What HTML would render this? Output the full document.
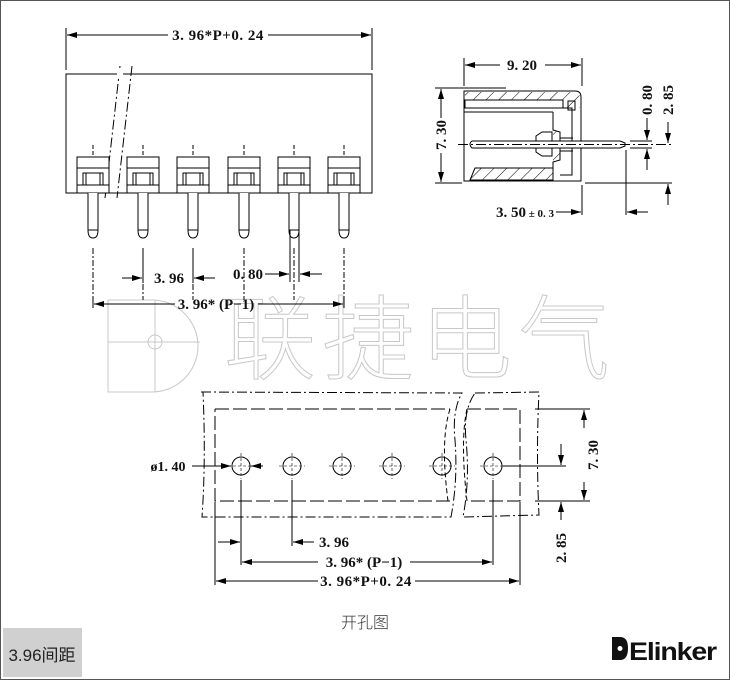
<!DOCTYPE html>
<html><head><meta charset="utf-8"><style>
html,body{margin:0;padding:0;background:#fff;}
svg{display:block;}
.t{font-family:"Liberation Serif","Noto Serif CJK SC",serif;font-weight:bold;font-size:15px;fill:#111;}
</style></head><body>
<svg width="730" height="680" viewBox="0 0 730 680" xmlns="http://www.w3.org/2000/svg">
<defs>
<marker id="a" viewBox="0 0 10 6" refX="10" refY="3" markerWidth="10" markerHeight="6" orient="auto-start-reverse" markerUnits="userSpaceOnUse"><path d="M0,0L10,3L0,6z" fill="#000"/></marker>
<pattern id="h" width="9" height="9" patternUnits="userSpaceOnUse" patternTransform="rotate(45)"><line x1="0" y1="0" x2="0" y2="9" stroke="#000" stroke-width="1"/></pattern>
</defs>
<rect x="0.5" y="0.5" width="729" height="679" fill="#fff" stroke="#555"/>
<rect x="3" y="628" width="79" height="49" fill="#d0d0d0"/>
<text x="42" y="661" text-anchor="middle" style="font-family:'Liberation Sans','Noto Sans CJK SC',sans-serif;font-size:17px;fill:#222">3.96间距</text>

<g fill="none" stroke="#c8c8c8" stroke-width="1">
<path d="M108,300 L108,392 L152,392 A46,46 0 0 0 152,300 Z"/>
<line x1="155" y1="300" x2="155" y2="392"/><line x1="108" y1="342" x2="200" y2="342"/>
<circle cx="155" cy="342" r="7"/>
</g>
<text x="420" y="372" text-anchor="middle" style="font-family:'Noto Sans CJK SC',sans-serif;font-size:92px;font-weight:300;fill:#fff;stroke:#c8c8c8;stroke-width:1;letter-spacing:6px">联捷电气</text>

<g stroke="#000" stroke-width="1" fill="none">
<rect x="66" y="74" width="306" height="119" fill="#fff"/>
<line x1="66" y1="28" x2="66" y2="70"/><line x1="372" y1="28" x2="372" y2="70"/>
<line x1="67" y1="35" x2="168" y2="35" marker-start="url(#a)"/><line x1="268" y1="35" x2="371" y2="35" marker-end="url(#a)"/>
<g stroke-dasharray="10,3,2,3">
<line x1="120" y1="66" x2="105" y2="198"/><line x1="132" y1="66" x2="117" y2="198"/>
</g>
<rect x="117" y="68" width="6" height="8" fill="#fff" stroke="none"/>
</g>
<text class="t" x="218" y="40" text-anchor="middle" letter-spacing="0.5">3. 96*P+0. 24</text>

<g stroke="#000" stroke-width="1" fill="none">
<g id="p">
<rect x="77" y="157" width="32" height="36" fill="#fff"/>
<line x1="77" y1="168" x2="109" y2="168"/>
<rect x="83" y="173" width="20" height="12"/>
<line x1="86" y1="173" x2="86" y2="185"/><line x1="100" y1="173" x2="100" y2="185"/>
<line x1="77" y1="185" x2="109" y2="185"/>
<path d="M88,193 L88,230 Q88,238 93,238 Q98,238 98,230 L98,193" fill="#fff"/>
<line x1="88" y1="230" x2="98" y2="230"/>
<line x1="93" y1="145" x2="93" y2="157" stroke-dasharray="4,2"/>
<line x1="93" y1="248" x2="93" y2="300" stroke-dasharray="6,2,2,2"/>
</g>
<use href="#p" x="50"/><use href="#p" x="100"/><use href="#p" x="151"/><use href="#p" x="201"/><use href="#p" x="251"/>
<line x1="143" y1="248" x2="143" y2="283"/><line x1="193" y1="248" x2="193" y2="283"/>
<line x1="122" y1="278" x2="142" y2="278" marker-end="url(#a)"/><line x1="194" y1="278" x2="215" y2="278" marker-start="url(#a)"/>
<line x1="290" y1="230" x2="290" y2="282"/><line x1="299" y1="230" x2="299" y2="282"/>
<line x1="265" y1="274" x2="289" y2="274" marker-end="url(#a)"/><line x1="300" y1="274" x2="322" y2="274" marker-start="url(#a)"/>
<line x1="93" y1="300" x2="93" y2="308"/><line x1="344" y1="300" x2="344" y2="308"/>
<line x1="94" y1="304" x2="175" y2="304" marker-start="url(#a)"/><line x1="258" y1="304" x2="343" y2="304" marker-end="url(#a)"/>
</g>
<text class="t" x="169" y="283" text-anchor="middle">3. 96</text>
<text class="t" x="248" y="279" text-anchor="middle">0. 80</text>
<text class="t" x="216" y="309" text-anchor="middle">3. 96* (P−1)</text>

<g stroke="#000" stroke-width="1" fill="none">
<line x1="464" y1="58" x2="464" y2="86"/><line x1="582" y1="58" x2="582" y2="86"/>
<line x1="465" y1="65" x2="500" y2="65" marker-start="url(#a)"/><line x1="545" y1="65" x2="581" y2="65" marker-end="url(#a)"/>
<line x1="435" y1="88" x2="506" y2="88"/><line x1="435" y1="183" x2="462" y2="183"/>
<line x1="441" y1="89" x2="441" y2="118" marker-start="url(#a)"/><line x1="441" y1="153" x2="441" y2="182" marker-end="url(#a)"/>
<path d="M464,91 H575 Q581,91 581,97 V181 H464 Z" fill="#fff"/>
<path d="M465,92 H574 Q580,92 580,98 V108 H465 Z" fill="url(#h)" stroke="none"/>
<rect x="465" y="100" width="98" height="8" fill="#fff"/>
<line x1="464" y1="112" x2="553" y2="112"/>
<path d="M553,112 V130 L560,132 V160 L553,162 V180 L470,180 L475,168 H553" fill="url(#h)"/>
<path d="M560,108 H572 V175 H560" />
<rect x="568" y="101" width="7" height="9"/>
<path d="M536,136 L542,132 H552 V156 H542 L536,152 Z" fill="#fff"/>
<path d="M472,141 H620 L625,143 V146 L620,148 H472 Q468,144 472,141 Z" fill="#fff"/>
<line x1="458" y1="144.5" x2="672" y2="144.5" stroke-dasharray="10,3,2,3"/>
<line x1="560" y1="138" x2="573" y2="138"/><line x1="560" y1="151" x2="573" y2="151"/>
<line x1="626" y1="150" x2="626" y2="215"/><line x1="582" y1="185" x2="582" y2="215"/>
<line x1="556" y1="212" x2="581" y2="212" marker-end="url(#a)"/><line x1="627" y1="212" x2="648" y2="212" marker-start="url(#a)"/>
<line x1="585" y1="183" x2="672" y2="183"/>
<line x1="630" y1="141" x2="652" y2="141"/><line x1="630" y1="148" x2="652" y2="148"/>
<line x1="647" y1="118" x2="647" y2="140" marker-end="url(#a)"/><line x1="647" y1="149" x2="647" y2="170" marker-start="url(#a)"/>
<line x1="668" y1="122" x2="668" y2="143" marker-end="url(#a)"/><line x1="668" y1="184" x2="668" y2="205" marker-start="url(#a)"/>
</g>
<text class="t" x="522" y="70" text-anchor="middle">9. 20</text>
<text class="t" transform="translate(446,135) rotate(-90)" text-anchor="middle">7. 30</text>
<text class="t" transform="translate(652,100) rotate(-90)" text-anchor="middle">0. 80</text>
<text class="t" transform="translate(673,100) rotate(-90)" text-anchor="middle">2. 85</text>
<text class="t" x="525" y="217" text-anchor="middle">3. 50<tspan style="font-size:11px"> ± 0. 3</tspan></text>

<g stroke="#000" stroke-width="1" fill="none">
<path d="M201,392 L462,393 Q452,410 455,440 Q458,480 451,517 L202,517 Q206,460 203,392" stroke-dasharray="10,3,2,3"/>
<path d="M475,393 L539,392 Q536,455 539,515 L463,517 Q470,480 466,440 Q463,410 475,393" stroke-dasharray="10,3,2,3"/>
<path d="M215,409 H450 M467,409 H520 V501 H467 M450,501 H215 V409" stroke-dasharray="14,4"/>
<path d="M450,409 Q440,440 448,501 M467,409 Q460,440 467,501" stroke-dasharray="5,3"/>
<g id="hole"><circle cx="241" cy="466" r="9"/><line x1="241" y1="453" x2="241" y2="479" stroke-dasharray="3,2" stroke-width="0.6"/><line x1="228" y1="466" x2="254" y2="466" stroke-dasharray="3,2" stroke-width="0.6"/></g>
<use href="#hole" x="51"/><use href="#hole" x="101"/><use href="#hole" x="151"/><use href="#hole" x="201"/><use href="#hole" x="252"/>
<line x1="192" y1="466" x2="231" y2="466" marker-end="url(#a)"/><line x1="251" y1="466" x2="263" y2="466" marker-start="url(#a)"/>
<line x1="241" y1="480" x2="241" y2="565"/><line x1="292" y1="480" x2="292" y2="546"/><line x1="493" y1="480" x2="493" y2="565"/>
<line x1="215" y1="502" x2="215" y2="585"/><line x1="520" y1="502" x2="520" y2="585"/>
<line x1="218" y1="542" x2="240" y2="542" marker-end="url(#a)"/><line x1="293" y1="542" x2="314" y2="542" marker-start="url(#a)"/>
<line x1="242" y1="562" x2="318" y2="562" marker-start="url(#a)"/><line x1="410" y1="562" x2="492" y2="562" marker-end="url(#a)"/>
<line x1="216" y1="581" x2="318" y2="581" marker-start="url(#a)"/><line x1="415" y1="581" x2="519" y2="581" marker-end="url(#a)"/>
<line x1="503" y1="466" x2="566" y2="466"/>
<line x1="535" y1="409" x2="590" y2="409"/><line x1="535" y1="501" x2="590" y2="501"/>
<line x1="584" y1="410" x2="584" y2="428" marker-start="url(#a)"/><line x1="584" y1="482" x2="584" y2="500" marker-end="url(#a)"/>
<line x1="561" y1="444" x2="561" y2="465" marker-end="url(#a)"/><line x1="561" y1="502" x2="561" y2="520" marker-start="url(#a)"/>
</g>
<text class="t" x="168" y="471" text-anchor="middle" style="font-size:14px">ø1. 40</text>
<text class="t" x="334" y="547" text-anchor="middle">3. 96</text>
<text class="t" x="364" y="567" text-anchor="middle">3. 96* (P−1)</text>
<text class="t" x="366" y="586" text-anchor="middle" letter-spacing="0.5">3. 96*P+0. 24</text>
<text class="t" transform="translate(598,455) rotate(-90)" text-anchor="middle">7. 30</text>
<text class="t" transform="translate(566,548) rotate(-90)" text-anchor="middle">2. 85</text>

<text x="365" y="628" text-anchor="middle" style="font-family:'Noto Sans CJK SC',sans-serif;font-size:16px;font-weight:300;fill:#333">开孔图</text>
<g>
<path d="M612,637 H620 Q628,637 628,648 Q628,660 620,660 H612 Z" fill="#111"/>
<circle cx="620" cy="648.5" r="2.5" fill="#fff"/>
<text x="629" y="660" style="font-family:'Liberation Sans',sans-serif;font-weight:bold;font-size:25px;fill:#111;letter-spacing:-1px" textLength="87" lengthAdjust="spacingAndGlyphs">Elinker</text>
</g>
</svg>
</body></html>
